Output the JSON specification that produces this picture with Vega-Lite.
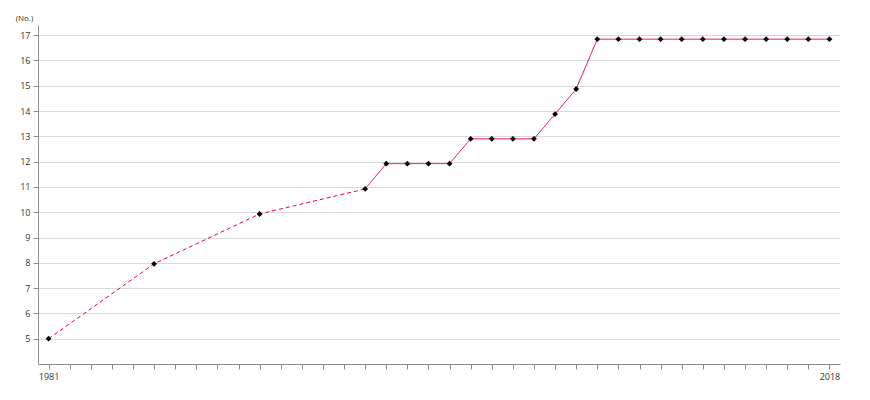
{
  "$schema": "https://vega.github.io/schema/vega-lite/v6.json",
  "width": 802,
  "height": 339,
  "autosize": {"type": "none"},
  "padding": {"left": 38, "top": 25, "right": 30, "bottom": 36},
  "background": "white",
  "config": {
    "view": {"stroke": null},
    "font": "Open Sans",
    "axis": {"labelFont": "Open Sans", "titleFont": "Open Sans", "labelColor": "#333", "titleColor": "#333", "domainColor": "#8c8c8c", "tickColor": "#8c8c8c", "labelFontSize": 9}
  },
  "data": {
    "values": [
      {"year": 1981, "value": 5.0, "seg": "dashed"},
      {"year": 1986, "value": 7.96, "seg": "dashed"},
      {"year": 1991, "value": 9.93, "seg": "dashed"},
      {"year": 1996, "value": 10.92, "seg": "dashed"},
      {"year": 1996, "value": 10.92, "seg": "solid"},
      {"year": 1997, "value": 11.92, "seg": "solid"},
      {"year": 1998, "value": 11.92, "seg": "solid"},
      {"year": 1999, "value": 11.92, "seg": "solid"},
      {"year": 2000, "value": 11.92, "seg": "solid"},
      {"year": 2001, "value": 12.9, "seg": "solid"},
      {"year": 2002, "value": 12.9, "seg": "solid"},
      {"year": 2003, "value": 12.9, "seg": "solid"},
      {"year": 2004, "value": 12.9, "seg": "solid"},
      {"year": 2005, "value": 13.88, "seg": "solid"},
      {"year": 2006, "value": 14.87, "seg": "solid"},
      {"year": 2007, "value": 16.84, "seg": "solid"},
      {"year": 2008, "value": 16.84, "seg": "solid"},
      {"year": 2009, "value": 16.84, "seg": "solid"},
      {"year": 2010, "value": 16.84, "seg": "solid"},
      {"year": 2011, "value": 16.84, "seg": "solid"},
      {"year": 2012, "value": 16.84, "seg": "solid"},
      {"year": 2013, "value": 16.84, "seg": "solid"},
      {"year": 2014, "value": 16.84, "seg": "solid"},
      {"year": 2015, "value": 16.84, "seg": "solid"},
      {"year": 2016, "value": 16.84, "seg": "solid"},
      {"year": 2017, "value": 16.84, "seg": "solid"},
      {"year": 2018, "value": 16.84, "seg": "solid"}
    ]
  },
  "encoding": {
    "x": {
      "field": "year", "type": "quantitative",
      "scale": {"domain": [1980.5, 2018.5], "nice": false, "zero": false},
      "axis": {
        "title": null, "grid": false,
        "values": [1981,1982,1983,1984,1985,1986,1987,1988,1989,1990,1991,1992,1993,1994,1995,1996,1997,1998,1999,2000,2001,2002,2003,2004,2005,2006,2007,2008,2009,2010,2011,2012,2013,2014,2015,2016,2017,2018],
        "labelExpr": "datum.value == 1981 || datum.value == 2018 ? datum.value : ''",
        "format": "d",
        "tickSize": 5, "labelPadding": 3, "labelFlush": false, "labelOverlap": false
      }
    },
    "y": {
      "field": "value", "type": "quantitative",
      "scale": {"domain": [4, 17.4], "nice": false, "zero": false},
      "axis": {
        "title": "(No.)", "titleAngle": 0, "titleFontSize": 8, "titleFontWeight": "normal",
        "titleX": -14, "titleY": -5, "titleAlign": "center", "titleBaseline": "alphabetic",
        "values": [5,6,7,8,9,10,11,12,13,14,15,16,17],
        "grid": true, "gridColor": "#d9d9d9", "tickSize": 5, "labelPadding": 3, "domainColor": "#8c8c8c"
      }
    }
  },
  "layer": [
    {
      "mark": {"type": "line", "color": "#e8003d", "strokeWidth": 1},
      "encoding": {
        "detail": {"field": "seg"},
        "strokeDash": {
          "field": "seg", "type": "nominal",
          "scale": {"domain": ["dashed", "solid"], "range": [[4, 3], [1, 0]]},
          "legend": null
        }
      }
    },
    {
      "transform": [{"filter": "!(datum.year == 1996 && datum.seg == 'solid')"}],
      "mark": {"type": "point", "shape": "diamond", "filled": true, "color": "black", "size": 34, "opacity": 1}
    }
  ]
}
